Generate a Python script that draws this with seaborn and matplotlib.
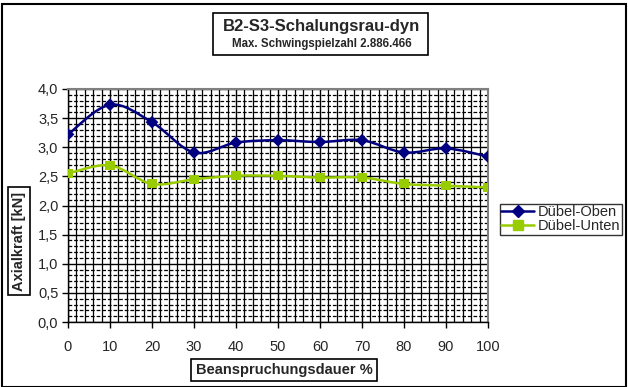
import numpy as np
import pandas as pd
import matplotlib
matplotlib.use("Agg")
import matplotlib.pyplot as plt
import seaborn as sns
from matplotlib.path import Path
from matplotlib.patches import PathPatch, Rectangle
from matplotlib.ticker import MultipleLocator, FuncFormatter
from matplotlib.lines import Line2D

x_vals = [0, 10, 20, 30, 40, 50, 60, 70, 80, 90, 100]
oben = [3.22, 3.73, 3.43, 2.91, 3.08, 3.12, 3.09, 3.12, 2.91, 2.98, 2.84]
unten = [2.55, 2.69, 2.37, 2.45, 2.51, 2.51, 2.48, 2.48, 2.37, 2.34, 2.31]
series_names = ["Dübel-Oben", "Dübel-Unten"]
colors = ["#000080", "#99CC00"]
markers = ["D", "s"]
title = "B2-S3-Schalungsrau-dyn"
subtitle = "Max. Schwingspielzahl 2.886.466"
xlabel = "Beanspruchungsdauer %"
ylabel = "Axialkraft [kN]"

sns.set_style("white")
plt.rcParams["font.family"] = ["Liberation Sans", "DejaVu Sans"]

df = pd.DataFrame({
    "x": x_vals * 2,
    "y": oben + unten,
    "series": [series_names[0]] * len(x_vals) + [series_names[1]] * len(x_vals),
})

fig = plt.figure(figsize=(6.28, 3.87), dpi=100)
ax = fig.add_axes([68 / 628, 1 - 322 / 387, 420 / 628, 233 / 387])

def smooth_path(xs, ys):
    pts = np.column_stack([xs, ys]).astype(float)
    n = len(pts)
    verts = [pts[0]]
    codes = [Path.MOVETO]
    for i in range(n - 1):
        p0 = pts[i - 1] if i > 0 else pts[i]
        p1 = pts[i]
        p2 = pts[i + 1]
        p3 = pts[i + 2] if i + 2 < n else pts[i + 1]
        c1 = p1 + (p2 - p0) / 6.0
        c2 = p2 - (p3 - p1) / 6.0
        verts += [c1, c2, p2]
        codes += [Path.CURVE4] * 3
    return Path(verts, codes)

for name, col, ys in zip(series_names, colors, [oben, unten]):
    ax.add_patch(PathPatch(smooth_path(x_vals, ys), facecolor="none",
                           edgecolor=col, lw=1.8, zorder=3))

sns.scatterplot(data=df, x="x", y="y", hue="series", style="series",
                palette=dict(zip(series_names, colors)),
                markers=dict(zip(series_names, markers)),
                s=42, edgecolor=None, linewidth=0, ax=ax, legend=False, zorder=4)

ax.set_xlim(0, 100)
ax.set_ylim(0, 4.0)
ax.xaxis.set_major_locator(MultipleLocator(10))
ax.xaxis.set_minor_locator(MultipleLocator(2))
ax.yaxis.set_major_locator(MultipleLocator(0.5))
ax.yaxis.set_minor_locator(MultipleLocator(0.1))
ax.yaxis.set_major_formatter(FuncFormatter(lambda v, p: f"{v:.1f}".replace(".", ",")))

ax.grid(which="major", axis="both", color="black", lw=1.0, ls="-", zorder=1)
ax.grid(which="minor", axis="x", color="black", lw=0.9, ls="-", zorder=1)
ax.grid(which="minor", axis="y", color="black", lw=0.9, ls=(0, (3, 1.5)), zorder=1)
ax.set_axisbelow(True)

for s in ["top", "right"]:
    ax.spines[s].set_color("#808080")
    ax.spines[s].set_linewidth(1.5)
for s in ["left", "bottom"]:
    ax.spines[s].set_color("black")
    ax.spines[s].set_linewidth(1.0)

ax.tick_params(axis="both", which="major", direction="out", length=4, width=1,
               color="black", labelsize=10.5, pad=3, left=True, bottom=True)
ax.tick_params(axis="x", which="major", pad=9)
ax.tick_params(which="minor", length=0)
ax.set_xlabel("")
ax.set_ylabel("")

box = dict(boxstyle="square,pad=0.3", facecolor="white", edgecolor="black", lw=1.2)
fig.patches.append(Rectangle((213 / 628, 1 - 55 / 387), 215 / 628, 42 / 387,
                             transform=fig.transFigure, fill=True,
                             facecolor="white", edgecolor="black", lw=1.2))
fig.text(321 / 628, 1 - 27 / 387, title, ha="center", va="center",
         fontsize=12, fontweight="bold")
fig.text(322 / 628, 1 - 44.5 / 387, subtitle, ha="center", va="center",
         fontsize=8.3, fontweight="bold")
fig.text(284 / 628, 1 - 370 / 387, xlabel, ha="center", va="center",
         fontsize=10.5, fontweight="bold", bbox=box)
fig.text(19 / 628, 1 - 241 / 387, ylabel, ha="center", va="center",
         fontsize=10.5, fontweight="bold", rotation=90, bbox=box)

handles = [Line2D([], [], color=c, marker=m, lw=1.8, markersize=6.5)
           for c, m in zip(colors, markers)]
leg = fig.legend(handles, series_names, loc="upper left",
                 bbox_to_anchor=(500 / 628, 1 - 204 / 387), frameon=True,
                 fontsize=10.5, handlelength=2.2, handletextpad=0.3,
                 borderpad=0.1, labelspacing=0.0, fancybox=False,
                 borderaxespad=0)
leg.get_frame().set_edgecolor("black")
leg.get_frame().set_linewidth(1.0)

fig.patches.append(Rectangle((2 / 628, 0), 624 / 628, 1 - 4 / 387,
                             transform=fig.transFigure, fill=False,
                             edgecolor="black", lw=1.5))

fig.savefig("out.png", dpi=100)
